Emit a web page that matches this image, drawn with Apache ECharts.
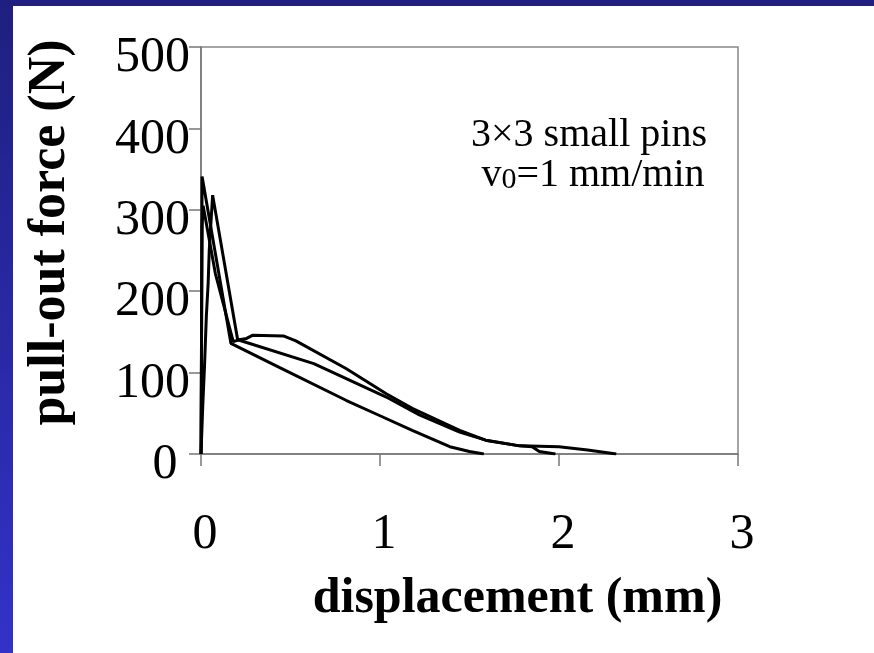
<!DOCTYPE html>
<html>
<head>
<meta charset="utf-8">
<script src="https://cdn.jsdelivr.net/npm/echarts@6/dist/echarts.min.js"></script>
<style>
  html, body { margin: 0; padding: 0; background: #fff; }
  #main { width: 874px; height: 653px; }
</style>
</head>
<body>
<div id="main"></div>
<script>
// 三条拔出力曲线 (displacement mm, force N)
var dispA = [0, 0.002, 0.004, 0.006, 0.167, 0.44, 0.81, 1.0, 1.18, 1.39, 1.5, 1.58];
var forceA = [0, 80, 200, 341, 136, 106, 66, 47, 29, 9, 3, 0];

var dispB = [0, 0.01, 0.02, 0.03, 0.04, 0.046, 0.065, 0.205, 0.255, 0.29, 0.46, 0.53, 0.81, 1.035, 1.18, 1.445, 1.59, 1.78, 2.0, 2.16, 2.32];
var forceB = [0, 60, 110, 170, 210, 250, 318, 140, 142, 146, 145, 139, 105, 74, 56, 29, 17, 10, 9, 5, 0];

var dispC = [0, 0.002, 0.004, 0.006, 0.012, 0.08, 0.09, 0.18, 0.21, 0.63, 1.035, 1.22, 1.445, 1.59, 1.78, 1.85, 1.89, 1.98];
var forceC = [0, 100, 200, 280, 305, 222, 224, 138, 140, 111, 70, 48, 27, 17, 10, 9, 3, 0];

var xTicks = [0, 1, 2, 3];
var yTicks = [0, 100, 200, 300, 400, 500];

function pairs(xs, ys) {
  var out = [];
  for (var i = 0; i < xs.length; i++) out.push([xs[i], ys[i]]);
  return out;
}

var serif = '"Liberation Serif", "Times New Roman", serif';

var myChart = echarts.init(document.getElementById('main'));

var lineStyle = { color: '#000', width: 3 };

option = {
  backgroundColor: '#fff',
  animation: false,
  grid: {
    left: 201, top: 47, right: 136, bottom: 199,
    show: true, borderColor: '#888', borderWidth: 1.5
  },
  xAxis: {
    type: 'value',
    min: xTicks[0], max: xTicks[xTicks.length - 1], interval: 1,
    name: 'displacement (mm)',
    nameLocation: 'middle',
    nameGap: 120,
    nameTextStyle: {
      fontFamily: serif, fontWeight: 'bold', fontSize: 50, color: '#000',
      lineHeight: 50, padding: [0, 0, 0, 96]
    },
    axisLine: { lineStyle: { color: '#777', width: 1.5 } },
    axisTick: { show: true, inside: false, length: 12, lineStyle: { color: '#777', width: 1.5 } },
    axisLabel: {
      fontFamily: serif, fontSize: 50, color: '#000', margin: 56, lineHeight: 50,
      padding: [0, 0, 0, 8]
    },
    splitLine: { show: false }
  },
  yAxis: {
    type: 'value',
    min: yTicks[0], max: yTicks[yTicks.length - 1], interval: 100,
    name: 'pull-out force (N)',
    nameLocation: 'middle',
    nameGap: 124,
    nameTextStyle: {
      fontFamily: serif, fontWeight: 'bold', fontSize: 52, color: '#000',
      lineHeight: 52, padding: [0, 0, 0, 36]
    },
    axisLine: { show: true, lineStyle: { color: '#777', width: 1.5 } },
    axisTick: { show: true, inside: false, length: 12, lineStyle: { color: '#777', width: 1.5 } },
    axisLabel: {
      fontFamily: serif, fontSize: 50, color: '#000', margin: 11,
      lineHeight: 22, verticalAlign: 'top',
      formatter: function (v) { return v === 0 ? '0 ' : String(v); }
    },
    splitLine: { show: false }
  },
  series: [
    { type: 'line', data: pairs(dispA, forceA), showSymbol: false, lineStyle: lineStyle },
    { type: 'line', data: pairs(dispB, forceB), showSymbol: false, lineStyle: lineStyle },
    { type: 'line', data: pairs(dispC, forceC), showSymbol: false, lineStyle: lineStyle }
  ],
  graphic: [
    { type: 'rect', left: 0, top: 0, z: 100, shape: { width: 874, height: 6 }, style: { fill: '#1f1f80' } },
    {
      type: 'rect', left: 0, top: 0, z: 100, shape: { width: 13, height: 653 },
      style: {
        fill: new echarts.graphic.LinearGradient(0, 0, 0, 1, [
          { offset: 0, color: '#1f1f80' },
          { offset: 1, color: '#3232c8' }
        ])
      }
    },
    {
      type: 'text', x: 589, y: 135, z: 50,
      style: {
        text: '3×3 small pins', fontFamily: serif, fontSize: 40, fill: '#000',
        align: 'center', verticalAlign: 'middle'
      }
    },
    {
      type: 'text', x: 593, y: 175, z: 50,
      style: {
        text: '{v|v}{s|0}{v|=1 mm/min}',
        align: 'center', verticalAlign: 'middle',
        rich: {
          v: { fontFamily: serif, fontSize: 40, fill: '#000' },
          s: { fontFamily: serif, fontSize: 30, fill: '#000', padding: [10, 0, 0, 0] }
        }
      }
    }
  ]
};
myChart.setOption(option);
</script>
</body>
</html>
